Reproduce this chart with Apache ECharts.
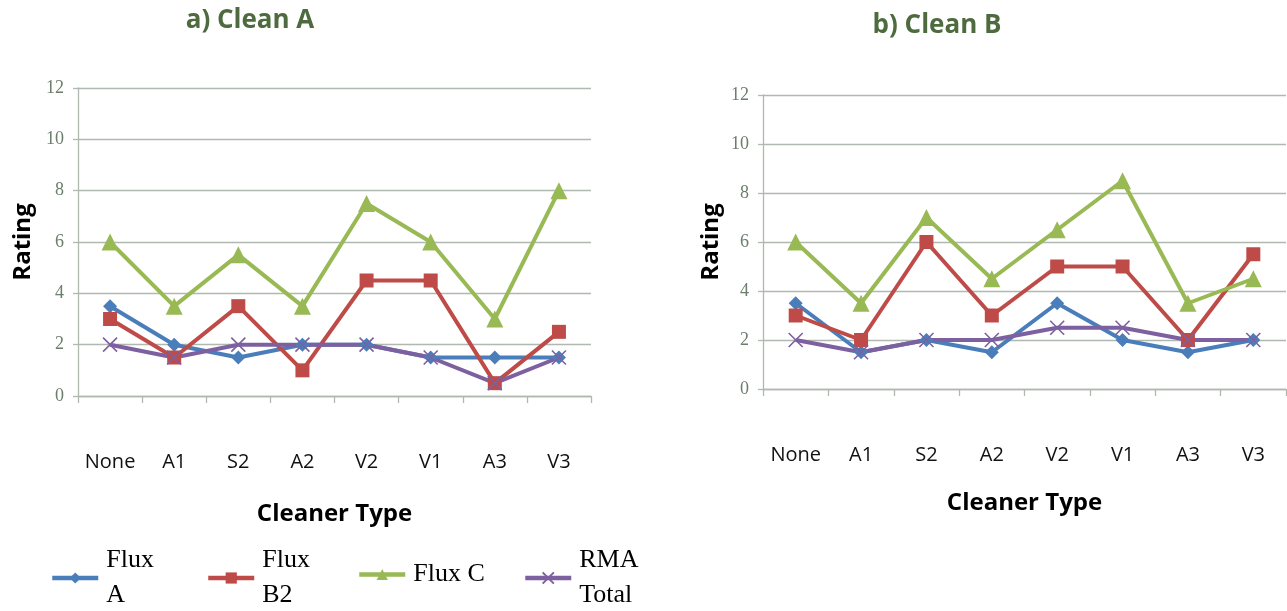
<!DOCTYPE html>
<html>
<head>
<meta charset="utf-8">
<script src="https://cdn.jsdelivr.net/npm/echarts@6/dist/echarts.min.js"></script>
<style>
html,body{margin:0;padding:0;background:#fff;}
#chart{width:1287px;height:611px;}
</style>
</head>
<body>
<div id="chart"></div>
<script>
const categories = ['None', 'A1', 'S2', 'A2', 'V2', 'V1', 'A3', 'V3'];
const yTicks = [0, 2, 4, 6, 8, 10, 12];
const seriesNames = ['Flux A', 'Flux B2', 'Flux C', 'RMA Total'];

// a) Clean A
const cleanA_fluxA   = [3.5, 2, 1.5, 2, 2, 1.5, 1.5, 1.5];
const cleanA_fluxB2  = [3, 1.5, 3.5, 1, 4.5, 4.5, 0.5, 2.5];
const cleanA_fluxC   = [6, 3.5, 5.5, 3.5, 7.5, 6, 3, 8];
const cleanA_rma     = [2, 1.5, 2, 2, 2, 1.5, 0.5, 1.5];

// b) Clean B
const cleanB_fluxA   = [3.5, 1.5, 2, 1.5, 3.5, 2, 1.5, 2];
const cleanB_fluxB2  = [3, 2, 6, 3, 5, 5, 2, 5.5];
const cleanB_fluxC   = [6, 3.5, 7, 4.5, 6.5, 8.5, 3.5, 4.5];
const cleanB_rma     = [2, 1.5, 2, 2, 2.5, 2.5, 2, 2];

const colors = ['#4a7ebb', '#be4b48', '#98b954', '#7d60a0'];
const symbols = ['diamond', 'rect', 'triangle', 'path://M0,0L10,10M10,0L0,10'];
const symbolSizes = [14, 14, 17, 14];
const legendLabels = {'Flux A': 'Flux\nA', 'Flux B2': 'Flux\nB2', 'Flux C': 'Flux C', 'RMA Total': 'RMA\nTotal'};

const gridLine = '#b0b9b0';

function makeSeries(idx, data, name, color, symbol, size, isCross) {
  return {
    type: 'line', name: name, data: data,
    xAxisIndex: idx, yAxisIndex: idx,
    symbol: symbol, symbolSize: size,
    showAllSymbol: true,
    lineStyle: {color: color, width: 4},
    itemStyle: isCross ? {color: color, borderColor: color, borderWidth: 1.6} : {color: color},
    emphasis: {disabled: true}
  };
}

const allSeries = [];
[[cleanA_fluxA, cleanA_fluxB2, cleanA_fluxC, cleanA_rma],
 [cleanB_fluxA, cleanB_fluxB2, cleanB_fluxC, cleanB_rma]].forEach((set, gi) => {
  set.forEach((d, si) => {
    allSeries.push(makeSeries(gi, d, seriesNames[si], colors[si], symbols[si], symbolSizes[si], si === 3));
  });
});

function xAxis(gi, gap, margin) {
  return {
    type: 'category', gridIndex: gi, data: categories, boundaryGap: true,
    name: 'Cleaner Type', nameLocation: 'middle', nameGap: gap,
    nameTextStyle: {fontFamily: 'Open Sans', fontWeight: 'bold', fontSize: 24, color: '#000'},
    axisLine: {lineStyle: {color: gridLine, width: 1.3}},
    axisTick: {show: true, alignWithLabel: false, length: 7, lineStyle: {color: gridLine, width: 1.3}},
    axisLabel: {margin: margin, fontFamily: 'Open Sans', fontSize: 20, color: '#111', interval: 0}
  };
}
function yAxis(gi, gap) {
  return {
    type: 'value', gridIndex: gi, min: 0, max: 12, interval: 2,
    name: 'Rating', nameLocation: 'middle', nameGap: gap, nameRotate: 90,
    nameTextStyle: {fontFamily: 'Open Sans', fontWeight: 'bold', fontSize: 24, color: '#000'},
    axisLine: {show: true, lineStyle: {color: gridLine, width: 1.3}},
    axisTick: {show: true, length: 5, lineStyle: {color: gridLine, width: 1.3}},
    splitLine: {show: true, lineStyle: {color: gridLine, width: 1.3}},
    axisLabel: {margin: 14, fontFamily: 'Liberation Serif', fontSize: 18, color: '#6b7d6b',
      formatter: v => yTicks.includes(v) ? String(v) : ''}
  };
}

function legend(name, left, top) {
  return {
    data: [name], left: left, top: top, orient: 'horizontal', padding: 0,
    itemWidth: 46, itemHeight: 14, selectedMode: false,
    lineStyle: {width: 4.5},
    formatter: n => legendLabels[n],
    textStyle: {fontFamily: 'Liberation Serif', fontSize: 26, lineHeight: 35, color: '#000', padding: [0, 0, 0, 3]}
  };
}

const option = {
  animation: false,
  backgroundColor: '#fff',
  title: [
    {text: 'a) Clean A', left: 245, top: 3, textAlign: 'center',
      textStyle: {fontFamily: 'Open Sans', fontWeight: 'bold', fontSize: 26, color: '#4e6b3f'}},
    {text: 'b) Clean B', left: 932, top: 8, textAlign: 'center',
      textStyle: {fontFamily: 'Open Sans', fontWeight: 'bold', fontSize: 26, color: '#4e6b3f'}}
  ],
  legend: [
    legend('Flux A', 50, 543),
    legend('Flux B2', 206, 543),
    legend('Flux C', 357, 557),
    legend('RMA Total', 523, 543)
  ],
  grid: [
    {left: 78, top: 88, width: 513, height: 308},
    {left: 763, top: 95, width: 523, height: 294}
  ],
  xAxis: [xAxis(0, 106, 56), xAxis(1, 102, 56)],
  yAxis: [yAxis(0, 43), yAxis(1, 40)],
  series: allSeries
};

const chart = echarts.init(document.getElementById('chart'), null, {renderer: 'canvas'});
chart.setOption(option);
</script>
</body>
</html>
